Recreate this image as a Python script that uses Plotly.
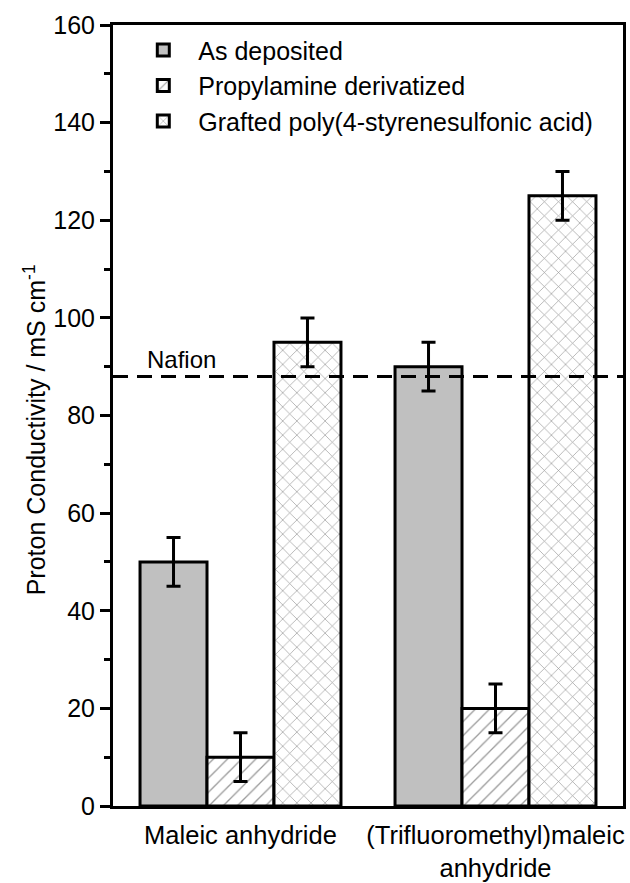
import plotly.graph_objects as go

# Monomer precursors on the x axis
categories = ["Maleic anhydride", "(Trifluoromethyl)maleic<br>anhydride"]

# Proton conductivity (mS cm^-1) for each film treatment
as_deposited = [50, 90]
propylamine = [10, 20]
grafted_pssa = [95, 125]

# Uncertainty on each value
err_as_deposited = [5, 5]
err_propylamine = [5, 5]
err_grafted = [5, 5]

# Reference conductivity of Nafion
nafion = 88

series_names = ["As deposited", "Propylamine derivatized",
                "Grafted poly(4-styrenesulfonic acid)"]

FONT = "Liberation Sans, Arial, sans-serif"

def err(vals):
    return dict(type="data", array=vals, visible=True,
                color="black", thickness=3, width=7)

fig = go.Figure()
fig.add_trace(go.Bar(
    x=categories, y=as_deposited, name=series_names[0],
    marker=dict(color="#c0c0c0", line=dict(color="black", width=3)),
    error_y=err(err_as_deposited)))
fig.add_trace(go.Bar(
    x=categories, y=propylamine, name=series_names[1],
    marker=dict(color="white", line=dict(color="black", width=3),
                pattern=dict(shape="/", fgcolor="#333333", bgcolor="white",
                             size=10, solidity=0.13)),
    error_y=err(err_propylamine)))
fig.add_trace(go.Bar(
    x=categories, y=grafted_pssa, name=series_names[2],
    marker=dict(color="white", line=dict(color="black", width=3),
                pattern=dict(shape="x", fgcolor="#333333", bgcolor="white",
                             size=10, solidity=0.13)),
    error_y=err(err_grafted)))

# Dashed Nafion reference line across the plot
fig.add_shape(type="line", xref="paper", x0=0, x1=1, yref="y",
              y0=nafion, y1=nafion, layer="above",
              line=dict(color="black", width=3, dash="15px,9px"))
fig.add_annotation(text="Nafion", xref="paper", x=0.062, xanchor="left",
                   yref="y", y=nafion, yanchor="bottom", yshift=1,
                   showarrow=False,
                   font=dict(family=FONT, size=24, color="black"))

# Y-axis title placed as a rotated annotation
fig.add_annotation(text="Proton Conductivity / mS cm<sup>-1</sup>",
                   xref="paper", x=0, xanchor="center", xshift=-78,
                   yref="paper", y=0.481, yanchor="middle",
                   textangle=-90, showarrow=False,
                   font=dict(family=FONT, size=25, color="black"))

fig.update_layout(
    width=630, height=883,
    margin=dict(l=113, r=7, t=25, b=77, autoexpand=False),
    paper_bgcolor="white", plot_bgcolor="white",
    barmode="group", bargap=0.212, bargroupgap=0,
    font=dict(family=FONT, size=25, color="black"),
    showlegend=True,
    legend=dict(x=0.03, y=0.997, xanchor="left", yanchor="top",
                bgcolor="rgba(0,0,0,0)", borderwidth=0,
                font=dict(family=FONT, size=25, color="black"),
                tracegroupgap=0, itemwidth=60),
)
fig.update_xaxes(
    type="category", range=[-0.5, 1.5], automargin=False,
    showline=True, linecolor="black", linewidth=3, mirror=True,
    ticks="", showgrid=False, zeroline=False,
    ticklabelstandoff=4,
    tickfont=dict(family=FONT, size=25.5, color="black"),
)
fig.update_yaxes(
    range=[0, 160], dtick=20, tick0=0, automargin=False,
    showline=True, linecolor="black", linewidth=3, mirror=True,
    ticks="outside", ticklen=10, tickwidth=3, tickcolor="black",
    minor=dict(dtick=10, ticks="outside", ticklen=6, tickwidth=3,
               tickcolor="black", showgrid=False),
    showgrid=False, zeroline=False,
    tickfont=dict(family=FONT, size=25, color="black"),
)

fig.write_html("out.html")
